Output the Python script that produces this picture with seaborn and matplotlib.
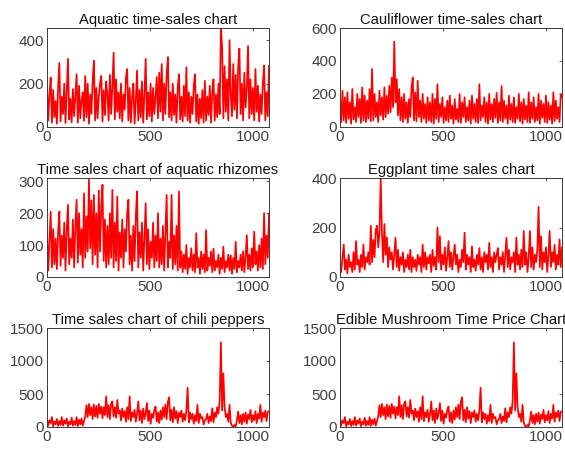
import numpy as np
import pandas as pd
import matplotlib
matplotlib.use("Agg")
import matplotlib.pyplot as plt
import seaborn as sns

# ---------------- data (one sample every 6 days) ----------------
step_days = 6

aquatic = [
    190, 30, 150, 228, 20, 170, 45, 120, 15, 180,
    295, 25, 140, 60, 200, 18, 160, 314, 35, 130,
    22, 175, 50, 145, 243, 20, 190, 40, 120, 160,
    28, 235, 45, 200, 15, 150, 60, 210, 305, 30,
    180, 40, 140, 200, 235, 25, 170, 55, 210, 150,
    30, 240, 60, 190, 342, 35, 220, 70, 160, 40,
    200, 25, 150, 80, 230, 267, 30, 180, 20, 140,
    200, 15, 120, 260, 30, 170, 45, 210, 20, 150,
    314, 35, 160, 50, 200, 25, 180, 60, 140, 230,
    40, 250, 70, 290, 30, 200, 60, 240, 322, 45,
    160, 30, 200, 55, 150, 20, 180, 243, 35, 140,
    25, 190, 50, 275, 30, 160, 20, 140, 60, 190,
    243, 25, 150, 15, 130, 40, 170, 20, 212, 30,
    140, 55, 190, 20, 160, 220, 30, 150, 45, 200,
    60, 455, 369, 40, 280, 70, 220, 30, 400, 150,
    50, 290, 80, 240, 40, 280, 361, 60, 200, 30,
    250, 90, 180, 373, 40, 220, 60, 180, 30, 267,
    70, 190, 25, 150, 60, 200, 283, 30, 160, 50,
    283,
]

cauliflower = [
    160, 30, 220, 40, 180, 25, 210, 50, 150, 20,
    230, 45, 120, 30, 200, 60, 170, 25, 240, 40,
    190, 30, 160, 50, 230, 35, 352, 40, 200, 60,
    150, 30, 220, 70, 180, 45, 240, 60, 190, 80,
    250, 90, 300, 120, 517, 150, 290, 70, 230, 40,
    180, 30, 200, 50, 150, 25, 170, 60, 240, 300,
    40, 210, 35, 280, 60, 160, 30, 200, 50, 140,
    25, 180, 40, 150, 30, 200, 20, 170, 50, 259,
    30, 140, 60, 180, 25, 120, 40, 160, 30, 190,
    50, 130, 20, 170, 45, 110, 30, 200, 25, 150,
    60, 180, 30, 120, 40, 160, 20, 190, 50, 140,
    30, 170, 25, 259, 40, 130, 60, 180, 30, 150,
    20, 200, 45, 140, 30, 170, 55, 207, 25, 150,
    40, 248, 30, 160, 50, 130, 20, 190, 45, 140,
    30, 180, 25, 120, 50, 200, 35, 150, 20, 170,
    45, 130, 30, 210, 25, 150, 50, 180, 30, 120,
    40, 200, 20, 160, 55, 140, 30, 190, 25, 150,
    45, 130, 20, 210, 35, 160, 50, 120, 30, 200,
    180,
]

rhizomes = [
    140, 20, 110, 205, 30, 150, 40, 120, 25, 140,
    205, 35, 130, 60, 170, 20, 150, 226, 40, 120,
    60, 180, 30, 160, 242, 45, 200, 70, 150, 30,
    262, 60, 190, 80, 305, 90, 240, 40, 257, 70,
    200, 30, 271, 80, 220, 289, 50, 180, 30, 160,
    40, 200, 60, 273, 30, 170, 50, 252, 20, 140,
    60, 180, 30, 150, 80, 200, 242, 40, 130, 20,
    160, 50, 190, 268, 30, 140, 60, 170, 20, 120,
    231, 40, 150, 25, 110, 60, 170, 30, 130, 50,
    200, 30, 120, 40, 160, 20, 140, 257, 30, 110,
    60, 257, 25, 130, 40, 160, 20, 268, 30, 80,
    15, 70, 25, 100, 10, 60, 30, 90, 20, 70,
    15, 137, 30, 60, 10, 80, 25, 70, 15, 147,
    20, 60, 35, 80, 15, 89, 20, 50, 30, 70,
    10, 60, 25, 95, 15, 50, 30, 70, 20, 68,
    10, 60, 25, 110, 15, 50, 30, 70, 20, 80,
    15, 60, 131, 25, 70, 20, 90, 30, 142, 40,
    80, 20, 100, 30, 120, 25, 200, 40, 130, 60,
    200,
]

eggplant = [
    60, 20, 80, 131, 30, 70, 15, 90, 40, 60,
    20, 100, 30, 145, 50, 70, 20, 90, 40, 131,
    30, 80, 60, 100, 50, 207, 60, 150, 80, 190,
    207, 120, 180, 400, 180, 60, 214, 90, 160, 40,
    120, 70, 100, 30, 90, 159, 40, 110, 25, 80,
    50, 100, 20, 70, 40, 90, 30, 110, 20, 80,
    40, 70, 25, 90, 50, 80, 20, 131, 40, 100,
    30, 80, 55, 90, 20, 110, 45, 80, 30, 200,
    60, 165, 30, 90, 50, 120, 25, 80, 145, 40,
    100, 30, 80, 131, 50, 90, 20, 70, 40, 110,
    60, 179, 30, 90, 50, 80, 20, 124, 40, 70,
    25, 90, 50, 117, 30, 80, 20, 100, 60, 90,
    30, 138, 40, 80, 20, 100, 60, 90, 117, 30,
    80, 50, 100, 20, 90, 159, 40, 110, 30, 80,
    60, 100, 20, 159, 50, 90, 30, 110, 40, 186,
    50, 100, 20, 80, 186, 40, 120, 30, 90, 60,
    110, 283, 40, 165, 30, 100, 60, 120, 20, 90,
    186, 40, 100, 60, 130, 30, 90, 50, 152, 40,
    120,
]

chili = [
    130, 20, 100, 60, 150, 10, 80, 40, 120, 15,
    90, 30, 150, 20, 100, 50, 130, 10, 80, 40,
    140, 20, 90, 30, 150, 15, 110, 40, 130, 20,
    90, 160, 330, 150, 350, 180, 300, 120, 340, 160,
    320, 140, 350, 200, 310, 130, 300, 180, 465, 150,
    330, 120, 350, 388, 160, 300, 140, 410, 200, 250,
    100, 280, 150, 240, 80, 300, 120, 465, 90, 220,
    150, 260, 80, 200, 388, 100, 250, 60, 280, 120,
    210, 362, 90, 250, 50, 200, 140, 260, 310, 80,
    220, 60, 250, 110, 300, 150, 340, 120, 380, 450,
    100, 260, 70, 300, 130, 240, 60, 220, 150, 250,
    80, 200, 100, 250, 595, 70, 220, 120, 200, 50,
    180, 90, 336, 60, 200, 130, 150, 40, 100, 120,
    200, 60, 160, 90, 284, 70, 220, 150, 300, 200,
    400, 1282, 250, 812, 300, 150, 200, 80, 336, 60,
    20, 5, 30, 10, 100, 233, 60, 180, 40, 200,
    80, 220, 50, 190, 120, 260, 70, 180, 100, 240,
    60, 200, 130, 336, 80, 220, 150, 250, 90, 230,
    240,
]

# the mushroom panel of the reference shows the same curve as the chili panel
mushroom = list(chili)

titles = [
    "Aquatic time-sales chart",
    "Cauliflower time-sales chart",
    "Time sales chart of aquatic rhizomes",
    "Eggplant time sales chart",
    "Time sales chart of chili peppers",
    "Edible Mushroom Time Price Chart",
]
series_list = [aquatic, cauliflower, rhizomes, eggplant, chili, mushroom]
y_limits = [456, 600, 310, 400, 1500, 1500]
y_ticks = [[0, 200, 400], [0, 200, 400, 600], [0, 100, 200, 300],
           [0, 200, 400], [0, 500, 1000, 1500], [0, 500, 1000, 1500]]
x_ticks = [0, 500, 1000]
x_max = 1080

# ---------------- styling ----------------
sns.set_theme(style="white")
plt.rcParams["font.family"] = ["Liberation Sans", "DejaVu Sans"]

fig = plt.figure(figsize=(5.65, 4.5), dpi=100)

W, H = 565.0, 450.0
col_left = [47, 340]
row_top = [28, 178, 328]
ax_w, ax_h = 222, 99

tick_color = "#404040"
edge_color = "#3a3a3a"

for k, (vals, title) in enumerate(zip(series_list, titles)):
    r, c = divmod(k, 2)
    x0 = col_left[c] / W
    y0 = 1 - (row_top[r] + ax_h) / H
    ax = fig.add_axes([x0, y0, ax_w / W, ax_h / H])
    df = pd.DataFrame({"day": np.arange(len(vals)) * step_days, "value": vals})
    sns.lineplot(data=df, x="day", y="value", ax=ax, color="#ff0000",
                 linewidth=1.25, estimator=None, sort=False)
    ax.set_xlim(0, x_max)
    ax.set_ylim(0, y_limits[k])
    ax.set_xticks(x_ticks)
    ax.set_yticks(y_ticks[k])
    ax.set_xlabel("")
    ax.set_ylabel("")
    ax.set_title(title, fontsize=10.6, color="#111111", pad=3)
    ax.tick_params(direction="in", length=2.5, width=0.6, colors=edge_color,
                   labelcolor=tick_color, labelsize=11, top=True, right=True,
                   pad=2)
    for sp in ax.spines.values():
        sp.set_visible(True)
        sp.set_color(edge_color)
        sp.set_linewidth(0.7)

fig.savefig("out.png", dpi=100)
